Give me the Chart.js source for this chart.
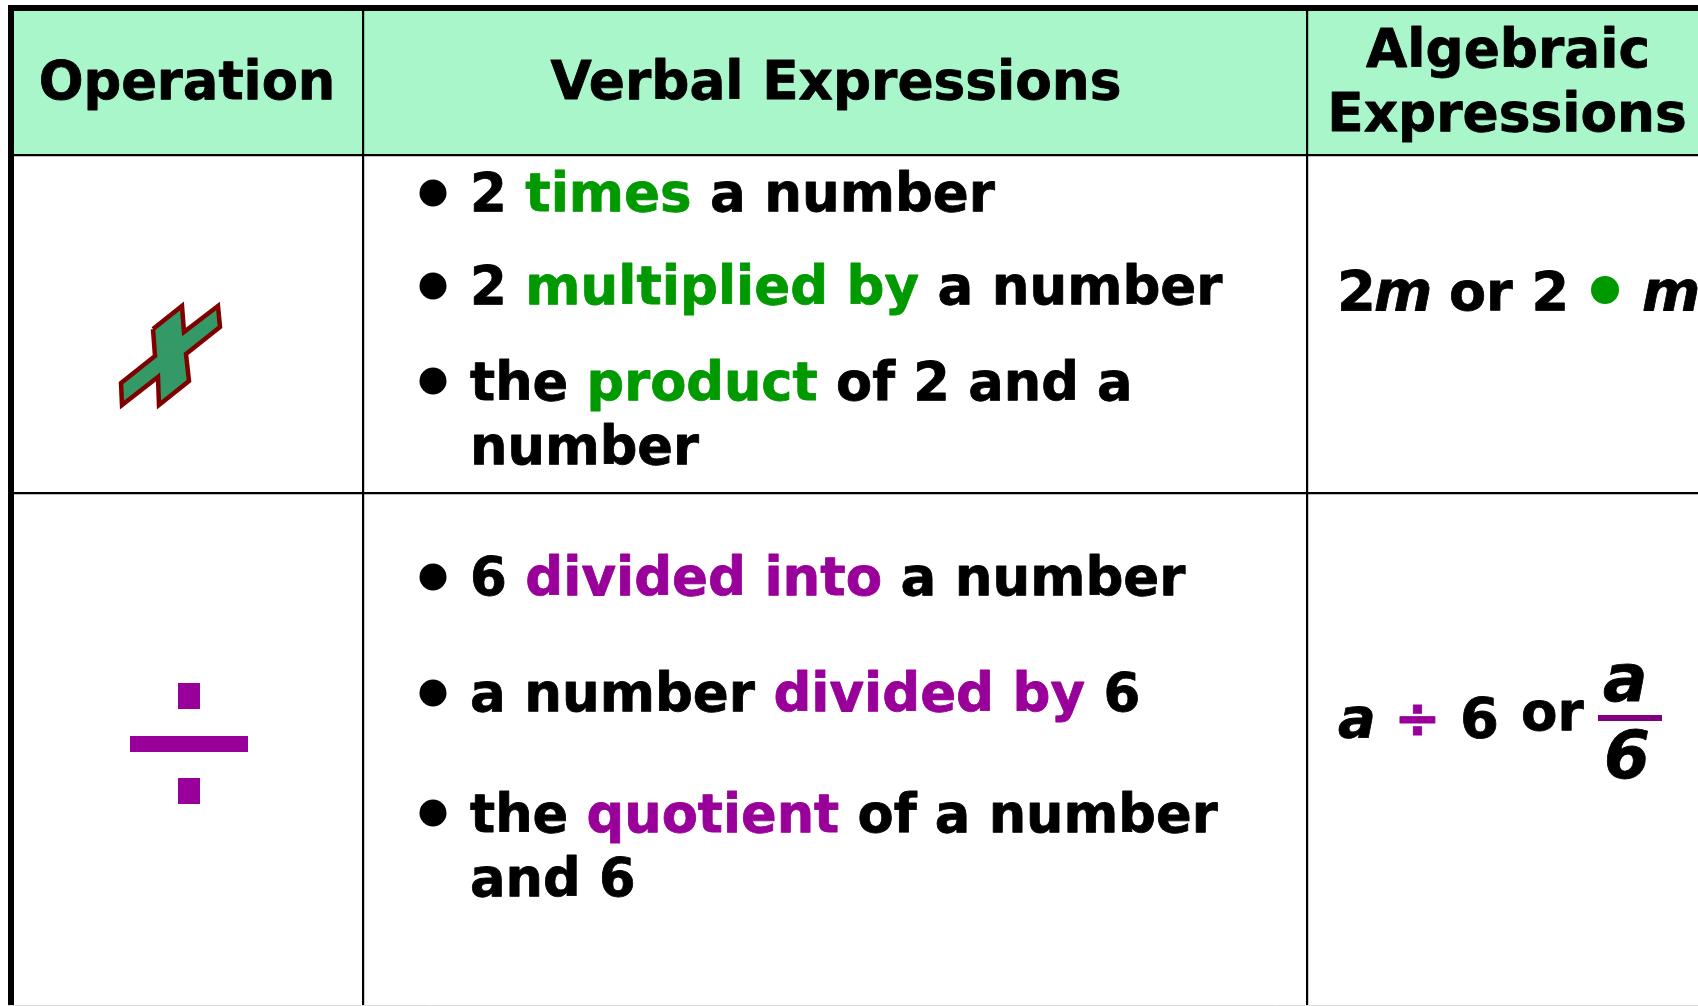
<!DOCTYPE html>
<html>
<head>
<meta charset="utf-8">
<title>Operation table</title>
<script src="https://cdn.jsdelivr.net/npm/chart.js@4"></script>
<style>
    html, body { margin: 0; padding: 0; background: #fff; overflow: hidden; }
    canvas { display: block; }
</style>
</head>
<body>
<canvas id="tableChart" width="1698" height="1006"></canvas>
<script>
// Table content
const headers = ['Operation', 'Verbal Expressions', ['Algebraic', 'Expressions']];
const timesLines = [['2 ', 'times', ' a number'], ['2 ', 'multiplied by', ' a number'], ['the ', 'product', ' of 2 and a'], ['number']];
const divideLines = [['6 ', 'divided into', ' a number'], ['a number ', 'divided by', ' 6'], ['the ', 'quotient', ' of a number'], ['and 6']];

// Table rules
const colEdges = [11, 363, 1307];
const rowEdges = [8, 155, 493, 1005];

// Operation signs
const plusX = [153, 182, 184, 218, 220, 186, 189, 159, 158, 122, 121, 155, 153];
const plusY = [329, 306, 332, 306, 327, 354, 381, 405, 377, 405, 383, 356, 329];
const divTopX = [178, 200, 200, 178];
const divTopY = [683, 683, 709, 709];
const divBarX = [130, 248, 248, 130];
const divBarY = [736, 736, 752, 752];
const divLowX = [178, 200, 200, 178];
const divLowY = [778, 778, 804, 804];

// Bullets and fraction bar
const bulletX = [433, 433, 433, 433, 433, 433];
const bulletY = [193, 286, 381, 577, 693, 813];
const dotX = [1605];
const dotY = [290];
const fractionX = [1598, 1662];
const fractionY = [718, 718];

const FONT = '"DejaVu Sans"';
const GREEN = '#009900';
const PURPLE = '#990099';

function toPoints(xs, ys) {
    return xs.map((x, i) => ({ x: x, y: ys[i] }));
}

function shape(xs, ys, color) {
    return {
        data: toPoints(xs, ys), showLine: true, fill: 'shape', pointRadius: 0,
        backgroundColor: color, borderColor: color, borderWidth: 0, tension: 0
    };
}

// the reference text is a bit heavier than plain bold, so fill and stroke it
function heavyText(ctx, text, x, y, color) {
    ctx.fillStyle = color;
    ctx.strokeStyle = color;
    ctx.lineWidth = 0.8;
    ctx.lineJoin = 'round';
    ctx.fillText(text, x, y);
    ctx.strokeText(text, x, y);
}

// draws one line of coloured pieces, the keyword is the middle piece
function drawRuns(ctx, runs, x, y, accent, size) {
    ctx.font = 'bold ' + size + 'px ' + FONT;
    runs.forEach((run, i) => {
        heavyText(ctx, run, x, y, i === 1 ? accent : '#000');
        x += ctx.measureText(run).width;
    });
}

const tableText = {
    id: 'tableText',
    afterDraw(chart) {
        const ctx = chart.ctx;
        const px = v => chart.scales.x.getPixelForValue(v);
        const py = v => chart.scales.y.getPixelForValue(v);
        const put = (text, x, y, font, color) => {
            ctx.font = font;
            heavyText(ctx, text, px(x), py(y), color || '#000');
        };
        const head = 'bold 53.3px ' + FONT;
        const bold = 'bold 56px ' + FONT;
        const word = 'bold 54px ' + FONT;
        const italic = 'italic bold 56px ' + FONT;
        const big = 'italic bold 66px ' + FONT;

        ctx.save();
        ctx.textBaseline = 'alphabetic';

        ctx.textAlign = 'center';
        put(headers[0], 187, 99, 'bold 52.7px ' + FONT);
        put(headers[1], 836, 99, head);
        put(headers[2][0], 1508, 67, head);
        put(headers[2][1], 1507, 131, head);

        ctx.textAlign = 'left';
        const lineSizes = [53, 53, 52.6, 52.6];
        const timesY = [211, 304, 400, 464];
        timesLines.forEach((runs, i) => drawRuns(ctx, runs, px(470), py(timesY[i]), GREEN, lineSizes[i]));
        const divideY = [595, 711, 832, 896];
        divideLines.forEach((runs, i) => drawRuns(ctx, runs, px(470), py(divideY[i]), PURPLE, lineSizes[i]));

        put('2', 1337, 310, bold);
        put('m', 1374, 310, italic);
        put('or 2', 1449, 310, word);
        put('m', 1642, 310, italic);

        put('a', 1338, 737, italic);
        put('\u00f7', 1394, 737, bold, PURPLE);
        put('6', 1460, 737, bold);
        put('or', 1521, 730, 'bold 53px ' + FONT);
        put('a', 1603, 701, big);
        put('6', 1604, 778, big);
        ctx.restore();
    }
};

new Chart(document.getElementById('tableChart').getContext('2d'), {
    type: 'scatter',
    data: {
        datasets: [
            { data: toPoints(fractionX, fractionY), showLine: true, pointRadius: 0, borderColor: '#800080', borderWidth: 6 },
            { data: toPoints(dotX, dotY), pointRadius: 14, pointBackgroundColor: GREEN, pointBorderWidth: 0 },
            { data: toPoints(bulletX, bulletY), pointRadius: 13.5, pointBackgroundColor: '#000', pointBorderWidth: 0 },
            shape(divLowX, divLowY, PURPLE),
            shape(divBarX, divBarY, PURPLE),
            shape(divTopX, divTopY, PURPLE),
            {
                data: toPoints(plusX, plusY), showLine: true, fill: 'shape', pointRadius: 0, tension: 0,
                backgroundColor: '#339966', borderColor: '#800000', borderWidth: 4.5, borderJoinStyle: 'miter'
            },
            {
                // header band
                data: [{ x: 8, y: rowEdges[1] }, { x: 1698, y: rowEdges[1] }],
                showLine: true, fill: { value: 5 }, pointRadius: 0, borderWidth: 0,
                backgroundColor: '#a9f6cb'
            }
        ]
    },
    options: {
        responsive: false,
        animation: false,
        layout: { autoPadding: false, padding: { left: 8, top: 5 } },
        plugins: { legend: { display: false }, tooltip: { enabled: false }, title: { display: false } },
        scales: {
            x: {
                type: 'linear', min: 8, max: 1698,
                border: { display: false },
                afterBuildTicks: scale => { scale.ticks = colEdges.map(v => ({ value: v })); },
                ticks: { display: false },
                grid: {
                    z: 1, drawTicks: false, color: '#000',
                    lineWidth: c => c.tick && c.tick.value === colEdges[0] ? 6 : 2.2
                }
            },
            y: {
                type: 'linear', min: 5, max: 1006, reverse: true,
                border: { display: false },
                afterBuildTicks: scale => { scale.ticks = rowEdges.map(v => ({ value: v })); },
                ticks: { display: false },
                grid: {
                    z: 1, drawTicks: false,
                    color: c => c.tick && c.tick.value === rowEdges[3] ? '#dddddd' : '#000',
                    lineWidth: c => {
                        if (!c.tick) return 2;
                        if (c.tick.value === rowEdges[0]) return 6;
                        return c.tick.value === rowEdges[3] ? 1 : 2.2;
                    }
                }
            }
        }
    },
    plugins: [tableText]
});
</script>
</body>
</html>
